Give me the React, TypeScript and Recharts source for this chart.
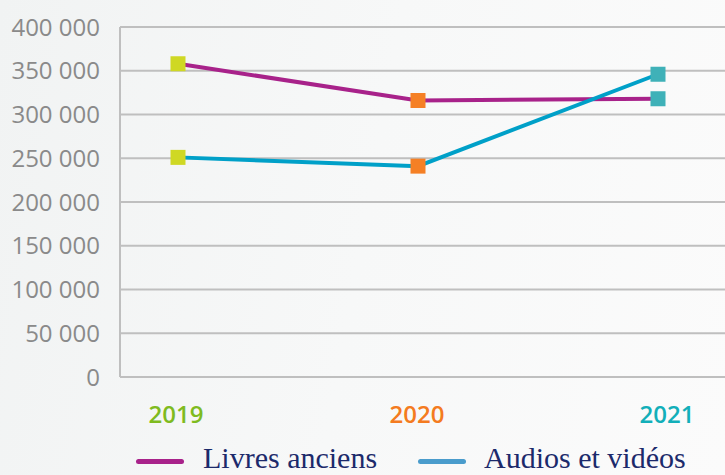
import { LineChart, Line, XAxis, YAxis, CartesianGrid, Legend } from "recharts";

const years = ["2019", "2020", "2021"];
const livresAnciens = [358000, 316000, 318000];
const audiosVideos = [251000, 241000, 346000];
const yTicks = [0, 50000, 100000, 150000, 200000, 250000, 300000, 350000, 400000];

const markerColors = ["#cfd824", "#f58025", "#3fb1b8"];
const labelColors = ["#7fbb1f", "#f47b20", "#12afb9"];
// the year labels are not quite centred on their points in the original
const labelShift = [-2, -1, 9];

const data = years.map((year, i) => ({
  year,
  livres: livresAnciens[i],
  audios: audiosVideos[i],
}));

const grid = "#bfbfbf";

function formatTick(v: number) {
  return v.toLocaleString("en-US").replace(/,/g, " ");
}

function SquareDot(props: any) {
  const { cx, cy, index } = props;
  if (cx == null || cy == null) return null;
  return (
    <rect
      key={`dot-${index}`}
      x={cx - 7.5}
      y={cy - 7.5}
      width={15}
      height={15}
      fill={markerColors[index]}
    />
  );
}

function YearTick(props: any) {
  const { x, y, payload, index } = props;
  return (
    <text
      x={x + labelShift[index]}
      y={y + 46}
      textAnchor="middle"
      fill={labelColors[index]}
      fontFamily="Open Sans"
      fontWeight={600}
      fontSize={24}
    >
      {payload.value}
    </text>
  );
}

function LegendContent() {
  const items = [
    { label: "Livres anciens", color: "#a8228a", lineX: 136, textX: 203 },
    { label: "Audios et vidéos", color: "#4a9ccc", lineX: 418, textX: 484 },
  ];
  return (
    <div style={{ position: "relative", width: 725, height: 38 }}>
      {items.map((it) => (
        <div key={it.label}>
          <div
            style={{
              position: "absolute",
              left: it.lineX,
              top: 22,
              width: 48,
              height: 5,
              borderRadius: 3,
              background: it.color,
            }}
          />
          <div
            style={{
              position: "absolute",
              left: it.textX,
              top: 4,
              fontFamily: "Liberation Serif",
              fontSize: 30,
              lineHeight: "34px",
              color: "#1c2a6b",
              whiteSpace: "nowrap",
            }}
          >
            {it.label}
          </div>
        </div>
      ))}
    </div>
  );
}

export default function App() {
  return (
    <div
      style={{
        position: "absolute",
        left: 0,
        top: 0,
        width: 725,
        height: 475,
        overflow: "hidden",
        background: "linear-gradient(100deg, #f1f3f3 0%, #f7f8f8 50%, #fbfbfb 100%)",
      }}
    >
      <LineChart
        width={725}
        height={475}
        data={data}
        margin={{ top: 27, right: 0, bottom: 0, left: 0 }}
      >
        <CartesianGrid horizontal vertical={false} stroke={grid} strokeWidth={2} />
        <XAxis
          dataKey="year"
          height={60}
          padding={{ left: 58, right: 67 }}
          axisLine={{ stroke: grid, strokeWidth: 2 }}
          tickLine={false}
          tickSize={0}
          tickMargin={0}
          tick={<YearTick />}
          interval={0}
        />
        <YAxis
          width={120}
          domain={[0, 400000]}
          ticks={yTicks}
          tickFormatter={formatTick}
          axisLine={{ stroke: grid, strokeWidth: 2 }}
          tickLine={false}
          tickSize={6}
          tickMargin={14}
          tick={{ fill: "#8a8a8a", fontSize: 24, fontFamily: "Open Sans" }}
        />
        <Legend verticalAlign="bottom" height={38} content={<LegendContent />} />
        <Line
          dataKey="livres"
          stroke="#a8228a"
          strokeWidth={4}
          dot={<SquareDot />}
          activeDot={false}
          isAnimationActive={false}
        />
        <Line
          dataKey="audios"
          stroke="#00a0c8"
          strokeWidth={4}
          dot={<SquareDot />}
          activeDot={false}
          isAnimationActive={false}
        />
      </LineChart>
    </div>
  );
}
